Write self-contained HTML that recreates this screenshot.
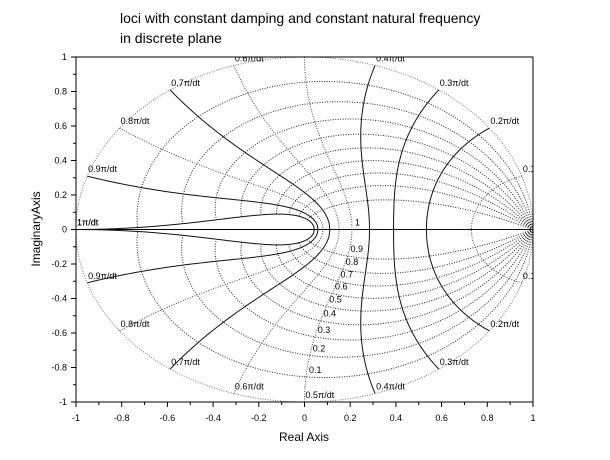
<!DOCTYPE html>
<html><head><meta charset="utf-8"><style>
html,body{margin:0;padding:0;background:#fff;width:610px;height:460px;overflow:hidden}
svg{display:block;font-family:"Liberation Sans",sans-serif}
</style></head><body>
<svg id="chart" width="610" height="460" viewBox="0 0 610 460" xmlns="http://www.w3.org/2000/svg">
<rect width="610" height="460" fill="#fff"/>
<text x="120" y="23" font-size="14">loci with constant damping and constant natural frequency</text>
<text x="120" y="43" font-size="14">in discrete plane</text>
<text x="304" y="441" font-size="12" text-anchor="middle">Real Axis</text>
<text x="0" y="0" font-size="12" text-anchor="middle" transform="translate(40,229) rotate(-90)">ImaginaryAxis</text>
<defs><clipPath id="plotclip"><rect x="76" y="57" width="457" height="345"/></clipPath></defs>
<g id="grid" clip-path="url(#plotclip)"></g>
<g id="axes"></g>
</svg>
<script>
const zetaValues = [0, 0.1, 0.2, 0.3, 0.4, 0.5, 0.6, 0.7, 0.8, 0.9, 1];
const wnValues = [0.1, 0.2, 0.3, 0.4, 0.5, 0.6, 0.7, 0.8, 0.9, 1];
const wnLabels = ["0.1π/dt","0.2π/dt","0.3π/dt","0.4π/dt","0.5π/dt","0.6π/dt","0.7π/dt","0.8π/dt","0.9π/dt","1π/dt"];
const zetaLabels = ["0.1","0.2","0.3","0.4","0.5","0.6","0.7","0.8","0.9","1"];
const xTicks = [-1,-0.8,-0.6,-0.4,-0.2,0,0.2,0.4,0.6,0.8,1];
const yTicks = [-1,-0.8,-0.6,-0.4,-0.2,0,0.2,0.4,0.6,0.8,1];
const solidWn = [false,true,true,true,false,false,true,false,true,true];

const NS='http://www.w3.org/2000/svg';
const X0=76,X1=533,Y0=57,Y1=402;
function sx(v){return X0+(v+1)/2*(X1-X0);}
function sy(v){return Y1-(v+1)/2*(Y1-Y0);}
const grid=document.getElementById('grid');
const axes=document.getElementById('axes');
function mk(tag,attrs,parent){const e=document.createElementNS(NS,tag);for(const k in attrs)e.setAttribute(k,attrs[k]);parent.appendChild(e);return e;}
function zpt(zeta,w,sign){const r=Math.exp(-zeta*w);const a=w*Math.sqrt(Math.max(0,1-zeta*zeta));return [r*Math.cos(a),sign*r*Math.sin(a)];}
function pathFrom(pts){return pts.map((p,i)=>(i?'L':'M')+sx(p[0]).toFixed(2)+' '+sy(p[1]).toFixed(2)).join(' ');}

// real axis
const ra=mk('line',{x1:sx(-1),y1:sy(0),x2:sx(1),y2:sy(0),stroke:'#000','stroke-width':1},grid);



// constant damping loci
zetaValues.forEach((z,i)=>{
  [1,-1].forEach(s=>{
    const pts=[];for(let k=0;k<=120;k++){pts.push(zpt(z,Math.PI*k/120,s));}
    const p=mk('path',{d:pathFrom(pts),fill:'none',stroke:z===0?'#777':'#222','stroke-width':1,'stroke-dasharray':'1 1.5'},grid);
    
    
  });
});
// constant natural frequency loci
wnValues.forEach((w,i)=>{
  const wr=w*Math.PI;
  [1,-1].forEach(s=>{
    const pts=[];for(let k=0;k<=120;k++){pts.push(zpt(k/120,wr,s));}
    const attrs={d:pathFrom(pts),fill:'none',stroke:solidWn[i]?'#111':'#444','stroke-width':1};
    if(!solidWn[i])attrs['stroke-dasharray']='1 1.5';
    const p=mk('path',attrs,grid);
    
    
  });
  [1,-1].forEach(s=>{
    const pt=zpt(0,wr,s);
    const t=mk('text',{x:sx(pt[0])+1,y:sy(pt[1])-4,'font-size':9},grid);
    t.textContent=wnLabels[i];
    
    
  });
});
// zeta labels on wn=0.5pi curve
zetaValues.slice(1).forEach((z,i)=>{
  const pt=zpt(z,0.5*Math.PI,-1);
  const t=mk('text',{x:sx(pt[0])+3,y:sy(pt[1])-4,'font-size':9},grid);
  t.textContent=zetaLabels[i];
  
  
});

// axes frame
const fr=mk('rect',{x:X0,y:Y0,width:X1-X0,height:Y1-Y0,fill:'none',stroke:'#000','stroke-width':1},axes);


xTicks.forEach((v,i)=>{
  const x=sx(v);
  const l=mk('line',{x1:x,y1:Y1,x2:x,y2:Y1+5,stroke:'#000'},axes);
  
  
  if(i<xTicks.length-1){const m=sx(v+0.1);const ml=mk('line',{x1:m,y1:Y1,x2:m,y2:Y1+3,stroke:'#000'},axes);
    
    }
  const t=mk('text',{x:x,y:Y1+19,'font-size':9,'text-anchor':'middle'},axes);
  t.textContent=String(v);
  
  
});
yTicks.forEach((v,i)=>{
  const y=sy(v);
  const l=mk('line',{x1:X0-5,y1:y,x2:X0,y2:y,stroke:'#000'},axes);
  
  
  if(i<yTicks.length-1){const m=sy(v+0.1);const ml=mk('line',{x1:X0-3,y1:m,x2:X0,y2:m,stroke:'#000'},axes);
    
    }
  const t=mk('text',{x:X0-9,y:y+3,'font-size':9,'text-anchor':'end'},axes);
  t.textContent=String(v);
  
  
});
</script>
</body></html>
